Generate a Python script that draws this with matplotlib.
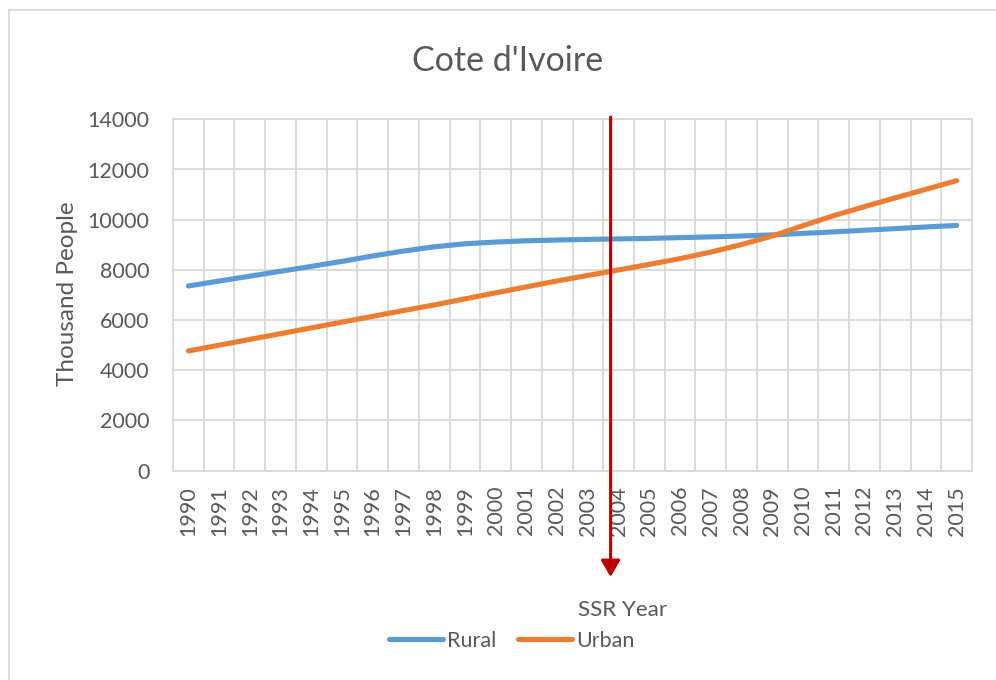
import matplotlib

matplotlib.use("Agg")
import matplotlib.pyplot as plt
from matplotlib.lines import Line2D
import numpy as np

# 数据：科特迪瓦城乡人口（千人）
years = [str(y) for y in range(1990, 2016)]
rural = [7360, 7555, 7750, 7945, 8140, 8340, 8555, 8750, 8920, 9040,
         9110, 9160, 9190, 9215, 9235, 9255, 9285, 9315, 9350, 9395,
         9455, 9515, 9580, 9645, 9710, 9770]
urban = [4770, 5000, 5230, 5460, 5690, 5920, 6150, 6380, 6605, 6845,
         7085, 7325, 7560, 7780, 8000, 8220, 8450, 8710, 9010, 9350,
         9760, 10160, 10520, 10870, 11210, 11555]
series_names = ["Rural", "Urban"]
ssr_year = 2003.74  # 箭头所在位置（年份）

TEXT = "#595959"
GRID = "#D9D9D9"
COLORS = ["#5B9BD5", "#ED7D31"]
FONT = "Lato"

plt.rcParams["font.family"] = [FONT, "DejaVu Sans"]

W, H = 996, 680
fig = plt.figure(figsize=(W / 100, H / 100), dpi=100)

# 绘图区位置（像素换算为比例）
ax = fig.add_axes([173 / W, 1 - 470.7 / H, 799 / W, 351.4 / H])

x = np.arange(len(years))
lines = []
for vals, name, col in zip([rural, urban], series_names, COLORS):
    (ln,) = ax.plot(x, vals, color=col, lw=3.7, solid_capstyle="round",
                    solid_joinstyle="round", label=name, zorder=3)
    lines.append(ln)

ax.set_xlim(-0.5, len(years) - 0.5)
ax.set_ylim(0, 14000)
ax.set_yticks(np.arange(0, 14001, 2000))
ax.set_xticks(x)
ax.set_xticklabels(years, rotation=90)
ax.set_xticks(np.arange(-0.5, len(years)), minor=True)

ax.grid(False)
ax.xaxis.grid(True, which="minor", color=GRID, lw=1.3)
ax.yaxis.grid(True, which="major", color=GRID, lw=1.3)
ax.set_axisbelow(True)
for s in ax.spines.values():
    s.set_color(GRID)
    s.set_linewidth(1.3)

ax.tick_params(axis="both", which="both", length=0, labelsize=15.5,
               labelcolor=TEXT)
ax.tick_params(axis="x", pad=11)
ax.tick_params(axis="y", pad=17)

# SSR 年份箭头
ssr_x = ssr_year - 1990
ax.annotate("", xy=(ssr_x, -0.3025), xytext=(ssr_x, 1.0065),
            xycoords=("data", "axes fraction"),
            textcoords=("data", "axes fraction"),
            arrowprops=dict(arrowstyle="-|>,head_length=0.5,head_width=0.29",
                            mutation_scale=20, color="#C00000", lw=2.2,
                            shrinkA=0, shrinkB=0),
            annotation_clip=False, zorder=5)

# 标题与轴标题
fig.text(507.5 / W, 1 - 71 / H, "Cote d'Ivoire", fontsize=24.5, color=TEXT,
         ha="center", va="baseline")
fig.text(73.5 / W, 1 - 294 / H, "Thousand People", fontsize=17.5, color=TEXT,
         rotation=90, rotation_mode="anchor", ha="center", va="baseline")
fig.text(622.8 / W, 1 - 616 / H, "SSR Year", fontsize=16.2, color=TEXT,
         ha="center", va="baseline")

# 图例
handles = [Line2D([], [], color=c, lw=3.7, solid_capstyle="round") for c in COLORS]
fig.legend(handles, series_names, loc="center",
           bbox_to_anchor=(511.5 / W, 1 - 641 / H), ncol=2, frameon=False,
           fontsize=15.5, labelcolor=TEXT, handlelength=2.5,
           handletextpad=0.2, columnspacing=1.0, borderpad=0,
           borderaxespad=0)

# 外框（左侧和顶部可见）
fig.add_artist(Line2D([9 / W, 9 / W], [0, 1 - 10 / H], color=GRID, lw=1.3,
                      transform=fig.transFigure))
fig.add_artist(Line2D([9 / W, 1], [1 - 10 / H, 1 - 10 / H], color=GRID, lw=1.3,
                      transform=fig.transFigure))

fig.savefig("out.png", dpi=100)
